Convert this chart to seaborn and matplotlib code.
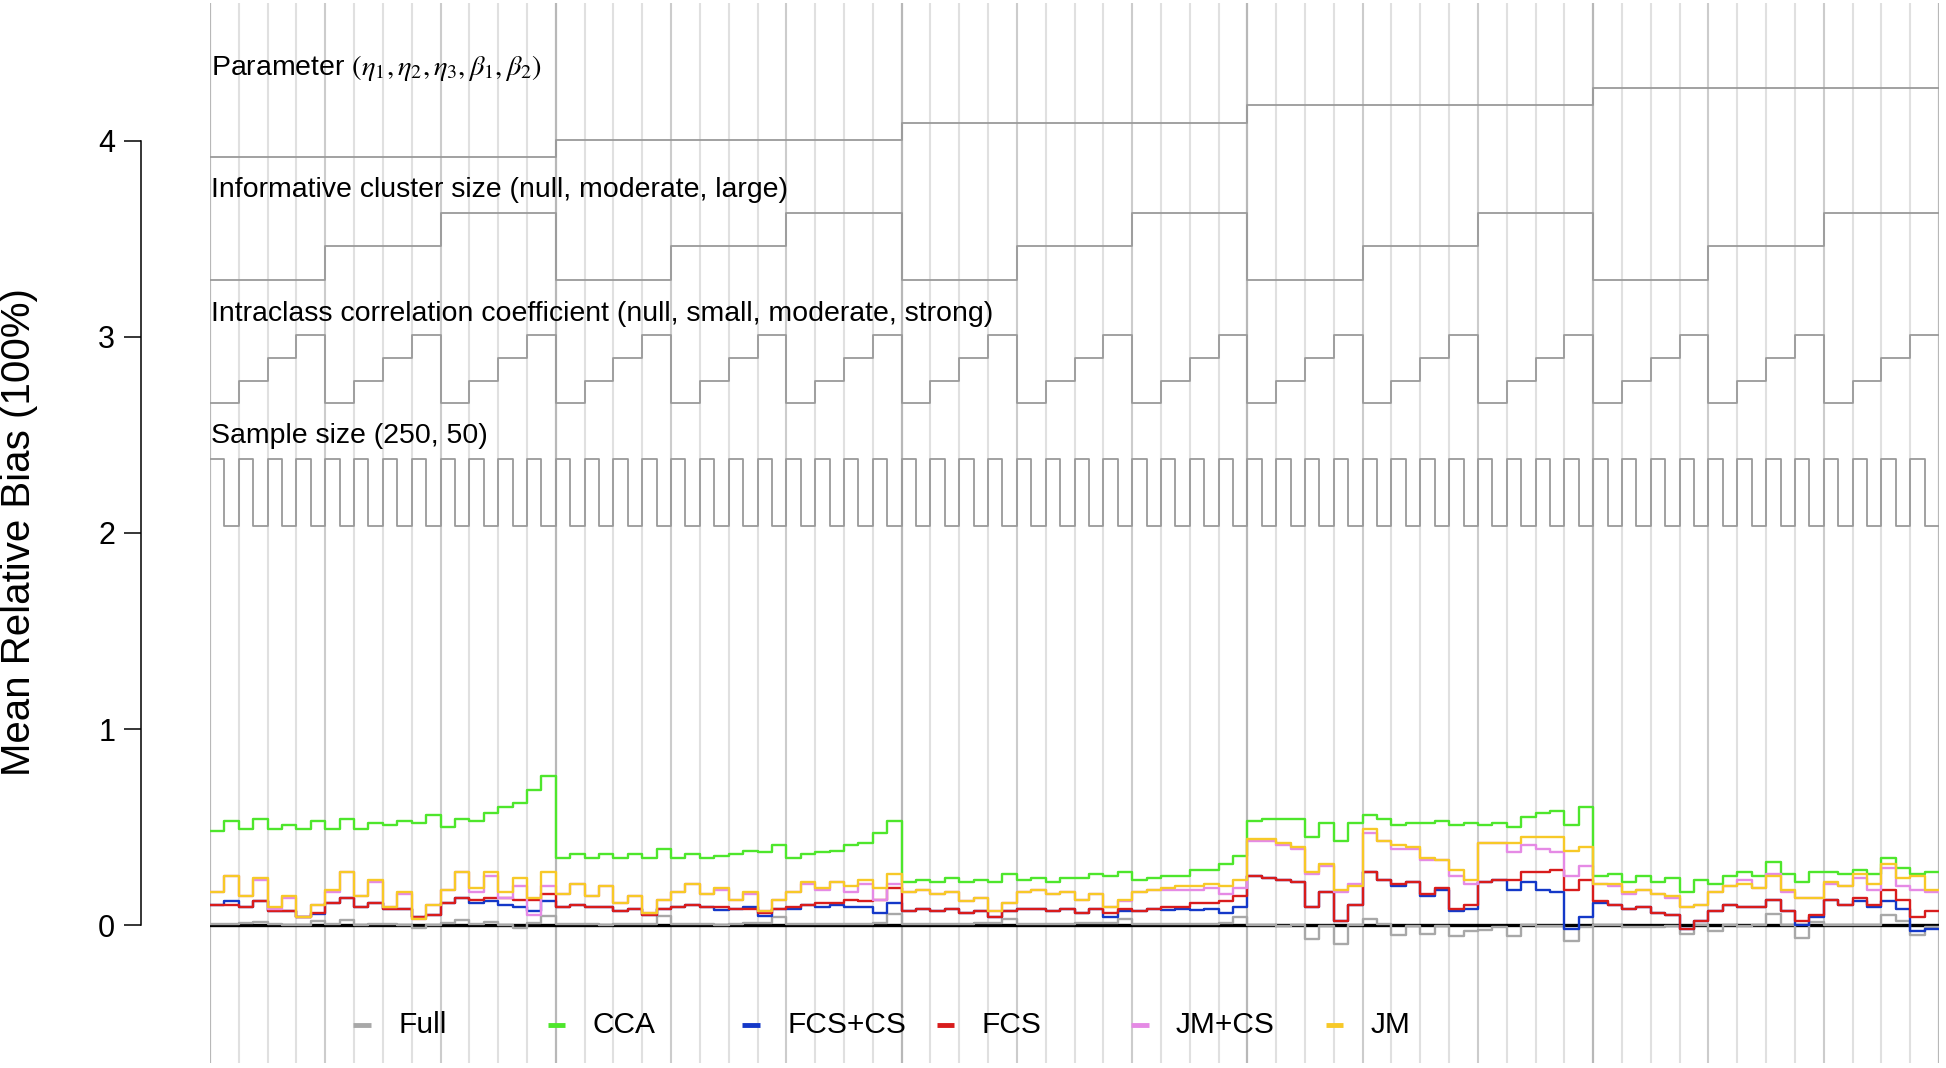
import itertools
import pandas as pd
import matplotlib
matplotlib.use("Agg")
import matplotlib.pyplot as plt
import seaborn as sns

# design factors of the nested loop (outer -> inner)
parameters = ["eta1", "eta2", "eta3", "beta1", "beta2"]
cluster_size = ["null", "moderate", "large"]
icc_levels = ["null", "small", "moderate", "strong"]
sample_size = [250, 50]

methods = ["Full", "CCA", "FCS+CS", "FCS", "JM+CS", "JM"]
colors = ["#a8a8a8", "#4ee62c", "#1438c8", "#d81c1c", "#e58ae5", "#f7c928"]

# mean relative bias per scenario, 24 scenarios per parameter block
full = [0.005, 0.005, 0.01, 0.015, 0.005, 0.0, 0.0, 0.02, 0.005, 0.025, 0.0, 0.005,
        0.005, 0.0, -0.015, 0.0, 0.01, 0.025, 0.005, 0.015, 0.0, -0.015, 0.01, 0.045,
        0.005, 0.005, 0.005, 0.0, 0.005, 0.005, 0.005, 0.045, 0.005, 0.005, 0.005, 0.0,
        0.005, 0.01, 0.01, 0.04, 0.005, 0.005, 0.005, 0.005, 0.005, 0.005, 0.01, 0.055,
        0.005, 0.005, 0.005, 0.005, 0.005, 0.01, 0.01, 0.03, 0.005, 0.005, 0.005, 0.005,
        0.01, 0.01, 0.01, 0.03, 0.005, 0.005, 0.005, 0.005, 0.005, 0.005, 0.01, 0.04,
        0.0, 0.0, -0.003, 0.0, -0.07, -0.003, -0.095, 0.0, 0.03, 0.005, -0.053, -0.003,
        -0.046, -0.003, -0.054, -0.032, -0.027, -0.008, -0.054, 0.0, -0.003, -0.007, -0.083, -0.012,
        0.0, 0.0, -0.008, -0.008, -0.008, -0.003, -0.046, 0.0, -0.032, 0.0, -0.003, 0.0,
        0.056, 0.002, -0.066, 0.014, 0.002, 0.0, 0.0, 0.0, 0.051, 0.019, -0.049, -0.012]
cca = [0.48, 0.53, 0.49, 0.54, 0.49, 0.51, 0.49, 0.53, 0.49, 0.54, 0.49, 0.52,
       0.51, 0.53, 0.52, 0.56, 0.50, 0.54, 0.53, 0.57, 0.60, 0.62, 0.69, 0.76,
       0.34, 0.36, 0.34, 0.36, 0.34, 0.36, 0.34, 0.39, 0.34, 0.36, 0.34, 0.35,
       0.36, 0.38, 0.37, 0.41, 0.34, 0.36, 0.37, 0.38, 0.41, 0.42, 0.47, 0.53,
       0.22, 0.23, 0.22, 0.24, 0.22, 0.23, 0.22, 0.26, 0.23, 0.24, 0.22, 0.24,
       0.24, 0.26, 0.25, 0.27, 0.23, 0.24, 0.25, 0.25, 0.28, 0.28, 0.31, 0.35,
       0.53, 0.54, 0.54, 0.54, 0.45, 0.52, 0.43, 0.52, 0.56, 0.54, 0.51, 0.52,
       0.52, 0.53, 0.51, 0.52, 0.51, 0.52, 0.50, 0.55, 0.57, 0.58, 0.51, 0.60,
       0.25, 0.26, 0.22, 0.25, 0.22, 0.24, 0.17, 0.23, 0.21, 0.25, 0.27, 0.25,
       0.32, 0.26, 0.22, 0.27, 0.27, 0.26, 0.28, 0.26, 0.34, 0.29, 0.26, 0.27]
fcs_cs = [0.10, 0.12, 0.09, 0.12, 0.07, 0.07, 0.04, 0.055, 0.11, 0.14, 0.09, 0.11,
          0.08, 0.08, 0.04, 0.05, 0.11, 0.14, 0.11, 0.12, 0.10, 0.09, 0.07, 0.12,
          0.09, 0.10, 0.09, 0.09, 0.07, 0.08, 0.05, 0.08, 0.09, 0.10, 0.09, 0.075,
          0.08, 0.09, 0.044, 0.08, 0.08, 0.10, 0.09, 0.10, 0.09, 0.09, 0.06, 0.11,
          0.07, 0.08, 0.07, 0.08, 0.06, 0.07, 0.04, 0.07, 0.08, 0.08, 0.07, 0.08,
          0.06, 0.08, 0.04, 0.07, 0.07, 0.08, 0.075, 0.08, 0.075, 0.08, 0.06, 0.09,
          0.25, 0.24, 0.23, 0.22, 0.09, 0.17, 0.02, 0.10, 0.27, 0.23, 0.20, 0.22,
          0.15, 0.18, 0.07, 0.08, 0.22, 0.23, 0.18, 0.22, 0.18, 0.17, -0.02, 0.04,
          0.11, 0.10, 0.08, 0.09, 0.06, 0.05, -0.02, 0.02, 0.07, 0.10, 0.09, 0.09,
          0.13, 0.07, 0.0, 0.04, 0.13, 0.10, 0.12, 0.09, 0.12, 0.08, -0.03, -0.02]
fcs = [0.10, 0.10, 0.09, 0.12, 0.07, 0.07, 0.04, 0.06, 0.11, 0.14, 0.09, 0.11,
       0.08, 0.08, 0.04, 0.05, 0.11, 0.14, 0.13, 0.14, 0.14, 0.13, 0.13, 0.16,
       0.09, 0.10, 0.09, 0.09, 0.07, 0.08, 0.05, 0.08, 0.09, 0.10, 0.09, 0.09,
       0.08, 0.08, 0.06, 0.08, 0.09, 0.10, 0.11, 0.11, 0.13, 0.12, 0.13, 0.19,
       0.07, 0.08, 0.07, 0.08, 0.06, 0.07, 0.04, 0.07, 0.08, 0.08, 0.07, 0.08,
       0.06, 0.08, 0.06, 0.08, 0.07, 0.08, 0.09, 0.09, 0.11, 0.11, 0.12, 0.15,
       0.25, 0.24, 0.23, 0.22, 0.09, 0.17, 0.02, 0.10, 0.27, 0.23, 0.21, 0.22,
       0.16, 0.19, 0.08, 0.10, 0.22, 0.23, 0.23, 0.27, 0.27, 0.28, 0.18, 0.23,
       0.12, 0.10, 0.08, 0.09, 0.06, 0.05, -0.02, 0.02, 0.07, 0.10, 0.09, 0.09,
       0.13, 0.07, 0.02, 0.05, 0.13, 0.10, 0.14, 0.10, 0.18, 0.13, 0.04, 0.07]
jm_cs = [0.17, 0.25, 0.15, 0.23, 0.08, 0.14, 0.04, 0.10, 0.17, 0.27, 0.15, 0.22,
         0.09, 0.16, 0.03, 0.10, 0.18, 0.27, 0.17, 0.25, 0.14, 0.20, 0.05, 0.20,
         0.16, 0.21, 0.15, 0.20, 0.11, 0.15, 0.06, 0.13, 0.17, 0.21, 0.16, 0.18,
         0.13, 0.16, 0.07, 0.13, 0.17, 0.21, 0.18, 0.22, 0.17, 0.21, 0.13, 0.21,
         0.17, 0.18, 0.16, 0.17, 0.12, 0.14, 0.07, 0.11, 0.17, 0.18, 0.16, 0.17,
         0.13, 0.16, 0.09, 0.12, 0.17, 0.18, 0.18, 0.18, 0.18, 0.19, 0.16, 0.19,
         0.43, 0.43, 0.41, 0.39, 0.26, 0.30, 0.17, 0.21, 0.47, 0.43, 0.39, 0.39,
         0.33, 0.33, 0.25, 0.21, 0.42, 0.42, 0.37, 0.41, 0.39, 0.37, 0.25, 0.30,
         0.21, 0.20, 0.16, 0.18, 0.16, 0.14, 0.09, 0.10, 0.17, 0.20, 0.23, 0.19,
         0.26, 0.17, 0.14, 0.14, 0.21, 0.20, 0.24, 0.18, 0.29, 0.20, 0.18, 0.17]
jm = [0.17, 0.25, 0.15, 0.24, 0.09, 0.15, 0.04, 0.10, 0.18, 0.27, 0.15, 0.23,
      0.09, 0.17, 0.03, 0.10, 0.18, 0.27, 0.19, 0.27, 0.17, 0.24, 0.14, 0.27,
      0.16, 0.21, 0.15, 0.20, 0.11, 0.15, 0.06, 0.13, 0.17, 0.21, 0.16, 0.19,
      0.13, 0.17, 0.07, 0.13, 0.17, 0.22, 0.19, 0.22, 0.20, 0.23, 0.19, 0.26,
      0.17, 0.18, 0.16, 0.17, 0.12, 0.14, 0.07, 0.11, 0.17, 0.18, 0.16, 0.17,
      0.13, 0.16, 0.09, 0.13, 0.17, 0.18, 0.19, 0.20, 0.20, 0.21, 0.20, 0.23,
      0.44, 0.44, 0.42, 0.40, 0.27, 0.31, 0.18, 0.20, 0.49, 0.43, 0.41, 0.40,
      0.34, 0.33, 0.28, 0.23, 0.42, 0.42, 0.42, 0.45, 0.45, 0.45, 0.38, 0.40,
      0.21, 0.21, 0.17, 0.18, 0.16, 0.15, 0.09, 0.10, 0.17, 0.20, 0.21, 0.19,
      0.25, 0.18, 0.14, 0.14, 0.22, 0.20, 0.26, 0.21, 0.31, 0.24, 0.25, 0.18]

series = dict(zip(methods, [full, cca, fcs_cs, fcs, jm_cs, jm]))

# scenario grid in loop order
grid = pd.DataFrame(list(itertools.product(range(len(parameters)), range(len(cluster_size)),
                                           range(len(icc_levels)), range(len(sample_size)))),
                    columns=["param", "ics", "icc", "n"])
grid["x"] = range(len(grid))
n_sc = len(grid)

# long data; repeat last value at right edge so steps-post closes the last scenario
rows = []
for m, vals in series.items():
    for x, v in enumerate(vals):
        rows.append((m, x, v))
    rows.append((m, n_sc, vals[-1]))
df = pd.DataFrame(rows, columns=["method", "x", "bias"])

# design step lines: (column, base, step)
design = [("param", 3.918, 0.088), ("ics", 3.291, 0.171), ("icc", 2.663, 0.115), ("n", 2.379, -0.345)]
drows = []
for col, base, step in design:
    lv = list(grid[col]) + [grid[col].iloc[-1]]
    for x, l in enumerate(lv):
        drows.append((col, x, base + step * l))
ddf = pd.DataFrame(drows, columns=["factor", "x", "y"])

sns.set_theme(style="white")
plt.rcParams["font.family"] = ["Liberation Sans", "DejaVu Sans"]
plt.rcParams["mathtext.fontset"] = "stix"
for key in ["text.color", "axes.labelcolor", "xtick.color", "ytick.color"]:
    plt.rcParams[key] = "black"

W, H = 1946, 1068
fig = plt.figure(figsize=(W / 100, H / 100), dpi=100)
ax = fig.add_axes([210 / W, 5 / H, 1729 / W, 1060 / H])

# vertical guide lines
for k in range(0, n_sc + 1, 2):
    if k % 24 == 0:
        c, lw = "#b8b8b8", 1.6
    elif k % 8 == 0:
        c, lw = "#cccccc", 1.5
    else:
        c, lw = "#e0e0e0", 1.5
    ax.axvline(k, color=c, lw=lw, zorder=0)

sns.lineplot(data=ddf, x="x", y="y", units="factor", estimator=None, color="#9a9a9a",
             lw=1.3, drawstyle="steps-post", ax=ax, zorder=1)

ax.axhline(0, color="black", lw=2.4, zorder=2)

sns.lineplot(data=df, x="x", y="bias", hue="method", hue_order=methods,
             palette=dict(zip(methods, colors)), estimator=None, lw=1.7,
             drawstyle="steps-post", legend=False, ax=ax, zorder=3)

# design labels
labels = [(4.37, r"Parameter $(\eta_1,\eta_2,\eta_3,\beta_1,\beta_2)$"),
          (3.75, "Informative cluster size (null, moderate, large)"),
          (3.115, "Intraclass correlation coefficient (null, small, moderate, strong)"),
          (2.495, "Sample size (250, 50)")]
for y, t in labels:
    ax.text(0.1, y, t, ha="left", va="center", fontsize=20.5, color="black")

# legend drawn R-style in one row
for k, (m, c) in enumerate(zip(methods, colors)):
    xc = 10.55 + 13.5 * k
    ax.plot([xc - 0.6, xc + 0.6], [-0.51, -0.51], color=c, lw=3.5, solid_capstyle="butt")
    ax.text(xc + 2.5, -0.51, m, ha="left", va="center", fontsize=21.5, color="black")

ax.set_xlim(0, n_sc)
ax.set_ylim(-0.704, 4.704)
ax.set_xticks([])
ax.set_yticks([0, 1, 2, 3, 4])
ax.tick_params(axis="y", length=12.5, width=1.1, pad=6, labelsize=22, left=True,
               color="black", labelcolor="black")
for s in ["top", "right", "bottom"]:
    ax.spines[s].set_visible(False)
ax.spines["left"].set_position(("outward", 49.7))
ax.spines["left"].set_bounds(0, 4)
ax.spines["left"].set_color("black")
ax.spines["left"].set_linewidth(1.1)
ax.set_xlabel("")
ax.set_ylabel("")
fig.text(19 / W, 1 - 532 / H, "Mean Relative Bias (100%)", rotation=90,
         ha="center", va="center", fontsize=29, color="black")

fig.savefig("out.png", dpi=100)
